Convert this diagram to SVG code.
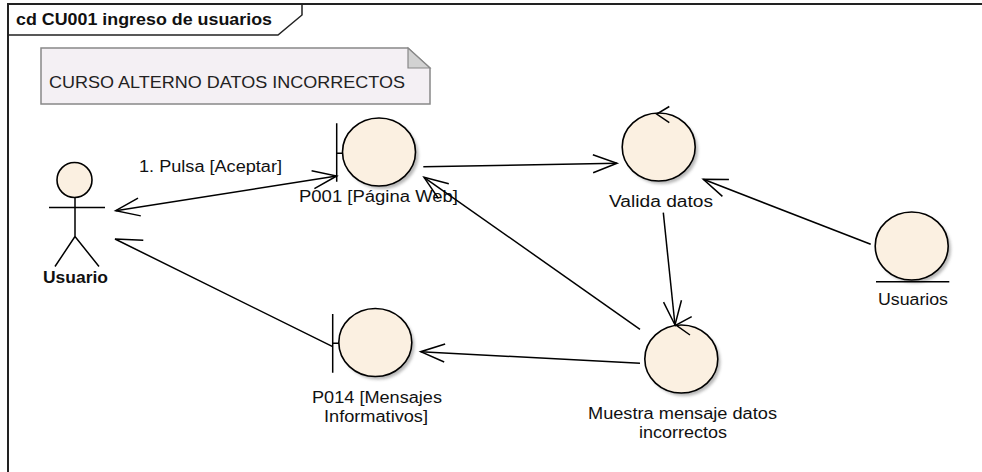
<svg xmlns="http://www.w3.org/2000/svg" width="982" height="472" viewBox="0 0 982 472">
<defs>
<style>
text{font-family:"Liberation Sans",Arial,sans-serif;fill:#111;}
.lbl{font-size:16px;}
.bold{font-weight:bold;}
.node{fill:#FBF0E1;stroke:#000;stroke-width:1.6;}
.shadow{fill:#999;filter:url(#blur);opacity:0.7;}
.line{stroke:#000;stroke-width:1.5;fill:none;}
.conn{stroke:#000;stroke-width:1.5;fill:none;}
</style>
<filter id="blur" x="-20%" y="-20%" width="140%" height="140%"><feGaussianBlur stdDeviation="1.5"/></filter>
<marker id="arr" markerUnits="userSpaceOnUse" markerWidth="30" markerHeight="24" refX="25" refY="12" orient="auto-start-reverse" viewBox="0 0 30 24">
<path d="M1,3 L25,12 L1,21" fill="none" stroke="#000" stroke-width="1.5"/>
</marker>
</defs>
<rect x="0" y="0" width="982" height="472" fill="#fff"/>
<g id="frame">
<path d="M8,472 V4 H982" fill="none" stroke="#222" stroke-width="2"/>
<path d="M8,35 H278 L302,15 V4" fill="none" stroke="#222" stroke-width="1.5"/>
<text x="16" y="25" class="bold" font-size="17" textLength="256" lengthAdjust="spacingAndGlyphs">cd CU001 ingreso de usuarios</text>
</g>
<g id="note">
<path d="M41,48 H408 L430,68 V104 H41 Z" fill="#F4F0F4" stroke="#888" stroke-width="1.5"/>
<path d="M408,48 V68 H430 Z" fill="#D2D2D2" stroke="#888" stroke-width="1.2"/>
<text x="49" y="88" font-size="17" textLength="356" lengthAdjust="spacingAndGlyphs" style="fill:#222">CURSO ALTERNO DATOS INCORRECTOS</text>
</g>
<g id="actor-usuario">
<circle cx="74.5" cy="180" r="17.5" class="node"/>
<path d="M49,207.5 H105 M75,197.5 V236.5 L55,266.5 M75,236.5 L99,266.5" class="line"/>
<text x="43" y="283" class="bold" font-size="16" textLength="65" lengthAdjust="spacingAndGlyphs">Usuario</text>
</g>
<g id="p001">
<ellipse cx="382" cy="155" rx="36.5" ry="34" class="shadow"/>
<ellipse cx="379" cy="152" rx="36.5" ry="34" class="node"/>
<path d="M336.7,123.3 V181.7 M336.7,153.3 H342.5" class="line"/>
<text x="299" y="202" class="lbl" textLength="159" lengthAdjust="spacingAndGlyphs">P001 [Página Web]</text>
</g>
<g id="valida">
<ellipse cx="661.5" cy="150" rx="36.5" ry="34" class="shadow"/>
<ellipse cx="658.7" cy="147" rx="36.5" ry="34" class="node"/>
<path d="M669.3,106.5 L656.7,114 L669.3,122.7" class="line"/>
<text x="609" y="207" class="lbl" textLength="104" lengthAdjust="spacingAndGlyphs">Valida datos</text>
</g>
<g id="usuarios">
<ellipse cx="914.5" cy="249" rx="36.5" ry="34" class="shadow"/>
<ellipse cx="911.7" cy="246" rx="36.5" ry="34" class="node"/>
<path d="M876,281.7 H949.3" class="line"/>
<text x="878" y="305" class="lbl" textLength="70" lengthAdjust="spacingAndGlyphs">Usuarios</text>
</g>
<g id="muestra">
<ellipse cx="684" cy="362" rx="36.5" ry="34" class="shadow"/>
<ellipse cx="681.3" cy="359" rx="36.5" ry="34" class="node"/>
<path d="M691.7,316.7 L676,325 L690,335" class="line"/>
<text x="588" y="419" class="lbl" textLength="189" lengthAdjust="spacingAndGlyphs">Muestra mensaje datos</text>
<text x="639" y="438" class="lbl" textLength="88" lengthAdjust="spacingAndGlyphs">incorrectos</text>
</g>
<g id="p014">
<ellipse cx="378" cy="345.5" rx="36.5" ry="34" class="shadow"/>
<ellipse cx="375.3" cy="342.5" rx="36.5" ry="34" class="node"/>
<path d="M332.7,314 V372.7 M332.7,343.3 H339" class="line"/>
<text x="312" y="403" class="lbl" textLength="130" lengthAdjust="spacingAndGlyphs">P014 [Mensajes</text>
<text x="324" y="422" class="lbl" textLength="104" lengthAdjust="spacingAndGlyphs">Informativos]</text>
</g>
<g id="connectors">
<line x1="115.7" y1="210.7" x2="336.7" y2="176" class="conn" marker-start="url(#arr)" marker-end="url(#arr)"/>
<text x="139" y="172" class="lbl" textLength="143" lengthAdjust="spacingAndGlyphs">1. Pulsa [Aceptar]</text>
<line x1="423.3" y1="166.7" x2="617" y2="163.3" class="conn" marker-end="url(#arr)"/>
<line x1="640" y1="329.3" x2="424" y2="177.3" class="conn" marker-end="url(#arr)"/>
<line x1="640" y1="363.3" x2="420.7" y2="351.7" class="conn" marker-end="url(#arr)"/>
<path d="M332.7,346.7 L115,239 L143.3,240.3" class="conn"/>
<line x1="663.3" y1="212.7" x2="675" y2="325" class="conn" marker-end="url(#arr)"/>
<line x1="870.7" y1="244.3" x2="703.3" y2="179.3" class="conn" marker-end="url(#arr)"/>
</g>
</svg>
